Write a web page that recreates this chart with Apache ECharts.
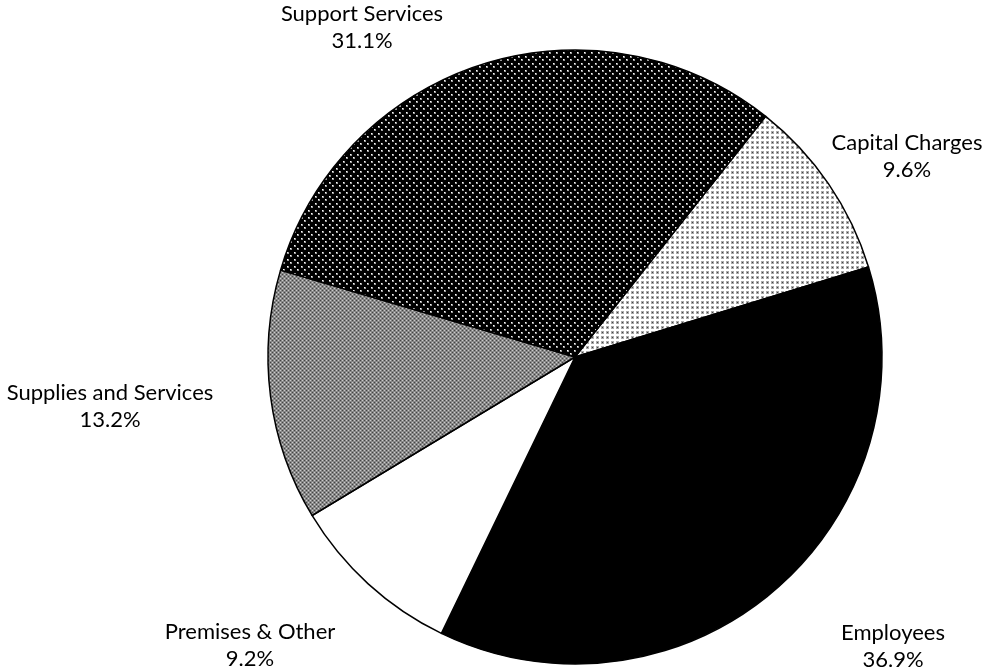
<!DOCTYPE html>
<html><head><meta charset="utf-8">
<script src="https://cdn.jsdelivr.net/npm/echarts@6/dist/echarts.min.js"></script>
<style>html,body{margin:0;padding:0;background:#fff}#c{width:998px;height:672px}</style>
</head><body><div id="c"></div>
<script>
var categories = ["Capital Charges", "Employees", "Premises & Other", "Supplies and Services", "Support Services"];
var values = [9.6, 36.9, 9.2, 13.2, 31.1];

function tile(w, h, draw) {
  var c = document.createElement('canvas'); c.width = w; c.height = h;
  var g = c.getContext('2d'); draw(g); return c;
}
var patCapital = tile(5, 5, function(g){ g.fillStyle='#fff'; g.fillRect(0,0,5,5); g.fillStyle='#aaa'; g.fillRect(1,1,3,3); g.fillStyle='#444'; g.fillRect(2,2,1,1); });
var patSupport = tile(7, 7, function(g){ g.fillStyle='#000'; g.fillRect(0,0,7,7); g.fillStyle='#999'; g.fillRect(0,0,2,2); g.fillRect(3,3,2,2); g.fillStyle='#fff'; g.fillRect(0,0,1,1); g.fillRect(3,3,1,1); });
var patSupplies = tile(4, 4, function(g){ g.fillStyle='#888'; g.fillRect(0,0,4,4); g.fillStyle='#444'; g.fillRect(0,0,1,1); g.fillRect(2,2,1,1); g.fillStyle='#ccc'; g.fillRect(2,0,1,1); g.fillRect(0,2,1,1); });

var fills = [
  {image: patCapital, repeat: 'repeat'},
  '#000000',
  '#ffffff',
  {image: patSupplies, repeat: 'repeat'},
  {image: patSupport, repeat: 'repeat'}
];
var labelPos = [[907,156],[893,646],[250,645],[110,406],[362,27]];

var chart = echarts.init(document.getElementById('c'), null, {renderer: 'canvas'});
chart.setOption({
  animation: false,
  backgroundColor: '#fff',
  series: [{
    type: 'pie',
    center: [575, 357],
    radius: 307,
    startAngle: 51.6,
    clockwise: true,
    data: categories.map(function(n, i){ return {name: n, value: values[i], itemStyle: {color: fills[i]}}; }),
    itemStyle: {borderColor: '#000', borderWidth: 1.5},
    label: {
      show: true, position: 'outside', overflow: 'none',
      formatter: function(p){ return p.name + '\n' + p.value.toFixed(1) + '%'; },
      fontFamily: 'Lato', fontSize: 22, color: '#000', lineHeight: 27, align: 'center'
    },
    labelLine: {show: false},
    labelLayout: function(p){
      var q = labelPos[p.dataIndex];
      return {x: q[0], y: q[1], align: 'center', verticalAlign: 'middle'};
    }
  }]
});
</script></body></html>
